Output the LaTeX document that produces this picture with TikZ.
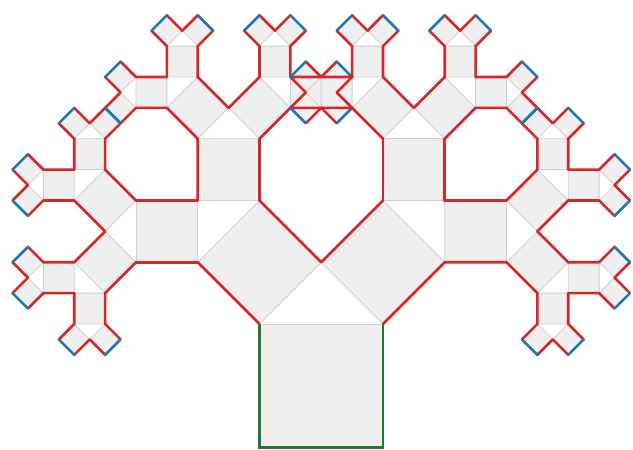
\documentclass[tikz,border=0pt]{standalone}
\usepackage{tikz}
\usetikzlibrary{calc}
\definecolor{tred}{HTML}{D62728}
\definecolor{tblue}{HTML}{1F77B4}
\definecolor{tgreen}{HTML}{1E7A30}
\definecolor{sqfill}{HTML}{EFEFEF}
\definecolor{sqline}{HTML}{D0D0D0}
\pgfdeclarelayer{bg}
\pgfsetlayers{bg,main}
\tikzset{
  sq/.style    = {fill=sqfill, draw=sqline, line width=0.6pt},
  side/.style  = {draw=tred, line width=1.85pt, line cap=round},
  tip/.style   = {draw=tblue, line width=1.85pt, line cap=round},
  trunk/.style = {draw=tgreen, line width=1.85pt},
}
\newcommand\treedepth{5}
% #1 depth, #2 and #3 the two base corners of the square
\newcommand\pybranch[3]{%
  \coordinate (d#1) at ($(#2)!1!90:(#3)$);
  \coordinate (c#1) at ($(#3)!1!-90:(#2)$);
  \coordinate (e#1) at ($(d#1)!0.70711!45:(c#1)$);
  \begin{pgfonlayer}{bg}
    \draw[sq] (#2) -- (#3) -- (c#1) -- (d#1) -- cycle;
  \end{pgfonlayer}
  \draw[side] (#2) -- (d#1) (#3) -- (c#1);
  \ifnum#1<\treedepth\relax
    \pgfmathtruncatemacro\nxt{#1+1}%
    \edef\tmp{\noexpand\pybranch{\nxt}{d#1}{e#1}\noexpand\pybranch{\nxt}{e#1}{c#1}}%
    \tmp
  \else
    \draw[tip] (d#1) -- (c#1);
  \fi}

\begin{document}
\begin{tikzpicture}[x=3.0875cm,y=3.0875cm]
\useasboundingbox (-2.1012,-0.01215) rectangle (3.0243,3.6235);
% trunk
\coordinate (a0) at (0,0);
\coordinate (b0) at (1,0);
\coordinate (c0) at (1,1);
\coordinate (d0) at (0,1);
\coordinate (e0) at (0.5,1.5);
\begin{pgfonlayer}{bg}
  \draw[sq] (a0) rectangle (c0);
\end{pgfonlayer}
\draw[trunk] (d0) -- (a0) -- (b0) -- (c0);
% branches
\pybranch{1}{d0}{e0}
\pybranch{1}{e0}{c0}
\end{tikzpicture}
\end{document}
